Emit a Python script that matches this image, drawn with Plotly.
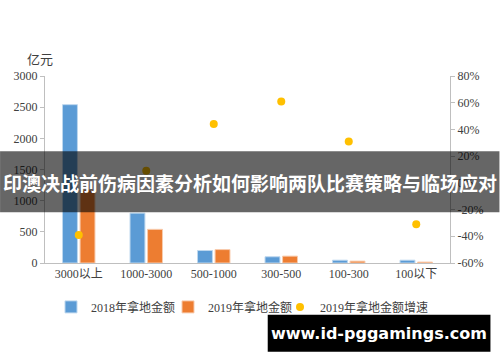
import plotly.graph_objects as go

categories = ["3000以上", "1000-3000", "500-1000", "300-500", "100-300", "100以下"]
amount_2018 = [2540, 800, 200, 100, 45, 45]
amount_2019 = [1170, 540, 215, 110, 30, 15]
growth_2019 = [-39, 9, 44, 61, 31, -31]
left_ticks = [0, 500, 1000, 1500, 2000, 2500, 3000]
right_ticks = [-60, -40, -20, 0, 20, 40, 60, 80]

W, H = 500, 362
L, R, T, B = 45, 450.5, 75.5, 263


def px(x):
    return (x - L) / (R - L)


def py(y):
    return (B - y) / (B - T)


fig = go.Figure()
fig.add_trace(go.Bar(x=categories, y=amount_2018, name="2018年拿地金额", legend="legend",
                     marker=dict(color="#5B9BD5", line=dict(color="#BDD7EE", width=1))))
fig.add_trace(go.Bar(x=categories, y=amount_2019, name="2019年拿地金额", legend="legend2",
                     marker=dict(color="#ED7D31", line=dict(color="#F8CBAD", width=1))))
fig.add_trace(go.Scatter(x=categories, y=growth_2019, name="2019年拿地金额增速", mode="markers",
                         legend="legend3", yaxis="y2", marker=dict(color="#FFC000", size=8)))

tickfont = dict(family="Liberation Serif, Noto Sans CJK SC", size=12, color="#404040")
legfont = dict(family="Liberation Serif, Noto Sans CJK SC", size=12, color="#404040")


def leg(xpix):
    return dict(orientation="h", xref="container", x=xpix / W, xanchor="left",
                y=py(307), yanchor="middle", font=legfont, itemwidth=30,
                bgcolor="rgba(0,0,0,0)")


fig.update_layout(
    width=W, height=H,
    margin=dict(l=L, r=W - R, t=T, b=H - B, autoexpand=False),
    paper_bgcolor="white", plot_bgcolor="white",
    barmode="group", bargap=0.48, bargroupgap=0.15,
    showlegend=True,
    legend=leg(51), legend2=leg(168), legend3=leg(280),
    xaxis=dict(showline=True, linecolor="#BFBFBF", linewidth=1, ticks="", tickfont=tickfont,
               showgrid=False),
    yaxis=dict(range=[0, 3000], tickvals=left_ticks, showline=True, linecolor="#BFBFBF",
               ticks="outside", ticklen=4, tickcolor="#BFBFBF", showgrid=False, zeroline=False,
               tickfont=tickfont),
    yaxis2=dict(range=[-60, 80], tickvals=right_ticks, ticktext=[f"{v}%" for v in right_ticks],
                overlaying="y", side="right", showline=True, linecolor="#BFBFBF",
                ticks="outside", ticklen=4, tickcolor="#BFBFBF", showgrid=False, zeroline=False,
                tickfont=tickfont),
    shapes=[
        dict(type="rect", xref="paper", yref="paper", x0=px(0), x1=px(500), y0=py(212), y1=py(151),
             fillcolor="rgba(0,0,0,0.6)", line=dict(width=0), layer="above"),
        dict(type="rect", xref="paper", yref="paper", x0=px(268), x1=px(491), y0=py(352), y1=py(315),
             fillcolor="black", line=dict(width=0), layer="above"),
    ],
    annotations=[
        dict(text="亿元", xref="paper", yref="paper", x=px(40), y=py(58), showarrow=False,
             xanchor="center", yanchor="middle",
             font=dict(family="Noto Sans CJK SC", size=13, color="#404040")),
        dict(text="<b>印澳决战前伤病因素分析如何影响两队比赛策略与临场应对</b>", xref="paper", yref="paper",
             x=px(250), y=py(182), showarrow=False, xanchor="center", yanchor="middle",
             font=dict(family="Noto Sans CJK SC", size=19, color="white")),
        dict(text="<b>www.id-pggamings.com</b>", xref="paper", yref="paper",
             x=px(379), y=py(334), showarrow=False, xanchor="center", yanchor="middle",
             font=dict(family="DejaVu Sans", size=16, color="white")),
    ],
)

fig.write_html("out.html", config={"displayModeBar": False},
               post_script="document.body.style.margin='0';document.body.style.overflow='hidden';")
